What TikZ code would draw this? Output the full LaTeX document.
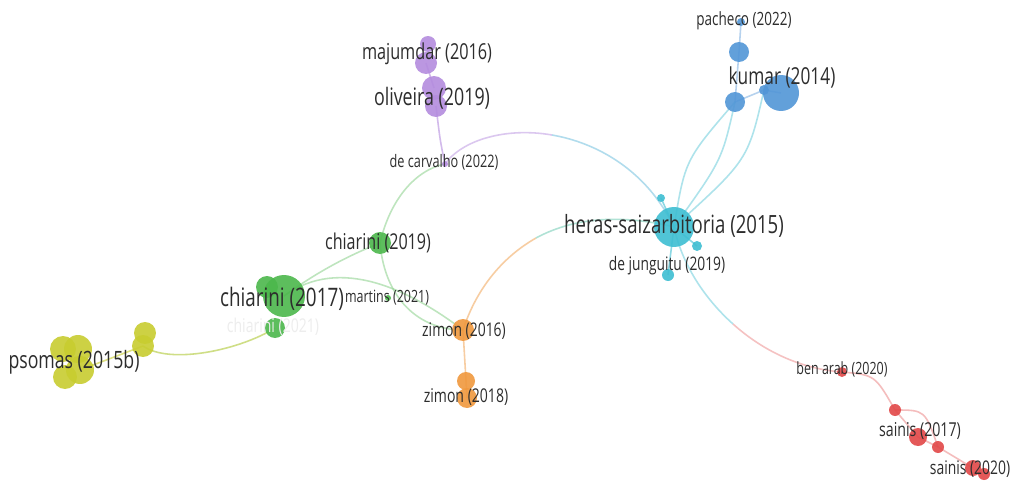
\documentclass[tikz,border=0pt]{standalone}
\usepackage{fontspec}
\newfontfamily\labfont[FakeStretch=0.74]{Open Sans}
\usetikzlibrary{backgrounds}

\definecolor{cBlue}{RGB}{82,150,215}
\definecolor{cCyan}{RGB}{62,190,210}
\definecolor{cPurp}{RGB}{180,140,222}
\definecolor{cGreen}{RGB}{76,184,76}
\definecolor{cYell}{RGB}{200,205,48}
\definecolor{cOran}{RGB}{240,152,62}
\definecolor{cRed}{RGB}{226,72,72}
\definecolor{cText}{RGB}{45,45,45}

\begin{document}
\begin{tikzpicture}[x=0.02cm,y=-0.02cm,
	bub/.style={circle,inner sep=0,outer sep=0,minimum size=#1*0.04cm,fill opacity=0.9},
	lnk/.style={line width=0.9pt,draw opacity=0.6,draw=#1},
	lab/.style={text=cText,inner sep=0,font=\labfont\fontsize{#1}{#1}\selectfont},
	ghost/.style={text=black!7,inner sep=0,font=\labfont\fontsize{#1}{#1}\selectfont}]
	\useasboundingbox (0,0) rectangle (1010,483);
	% blue cluster
	\node[bub=4,fill=cBlue] (pach) at (741,22) {};
	\node[bub=10,fill=cBlue] (kako) at (739,52) {};
	\node[bub=10,fill=cBlue] (du) at (735,102) {};
	\node[bub=5,fill=cBlue] (kumS) at (764,90) {};
	\node[bub=18,fill=cBlue] (kum) at (781,93) {};
	% cyan cluster
	\node[bub=4,fill=cCyan] (danm) at (661,198) {};
	\node[bub=20,fill=cCyan] (heras) at (674,227) {};
	\node[bub=5,fill=cCyan] (herS) at (697,246) {};
	\node[bub=6,fill=cCyan] (jung) at (668,275) {};
	% purple cluster
	\node[bub=8,fill=cPurp] (majT) at (428,44) {};
	\node[bub=11,fill=cPurp] (maj) at (426,63) {};
	\node[bub=12,fill=cPurp] (oliv) at (434,88) {};
	\node[bub=11,fill=cPurp] (olivB) at (436,106) {};
	\node[bub=3,fill=cPurp] (carv) at (445,164) {};
	% green cluster
	\node[bub=11,fill=cGreen] (ch19) at (380,243) {};
	\node[bub=11,fill=cGreen] (ch17L) at (267,287) {};
	\node[bub=10,fill=cGreen] (ch21) at (275,328) {};
	\node[bub=21,fill=cGreen] (ch17) at (284,296) {};
	\node[bub=3,fill=cGreen] (mart) at (388,298) {};
	% yellow cluster
	\node[bub=13,fill=cYell] (psoA) at (63,349) {};
	\node[bub=14,fill=cYell] (psoB) at (78,349) {};
	\node[bub=12,fill=cYell] (psoC) at (65,377) {};
	\node[bub=14,fill=cYell] (pso) at (80,370) {};
	\node[bub=11,fill=cYell] (psoT) at (145,333) {};
	\node[bub=11,fill=cYell] (pso2) at (143,346) {};
	% orange cluster
	\node[bub=11,fill=cOran] (zim16) at (463,330) {};
	\node[bub=9,fill=cOran] (zim18T) at (466,381) {};
	\node[bub=10,fill=cOran] (zim18) at (467,398) {};
	% red cluster
	\node[bub=5,fill=cRed] (ben) at (842,372) {};
	\node[bub=6,fill=cRed] (rA) at (895,410) {};
	\node[bub=9,fill=cRed] (sai17) at (918,437) {};
	\node[bub=6,fill=cRed] (rB) at (938,447) {};
	\node[bub=8,fill=cRed] (sai20) at (973,468) {};
	\node[bub=6,fill=cRed] (sai20B) at (984,474) {};
	% helper points on the long links
	\coordinate (mCH) at (552,135);
	\coordinate (mZH) at (536,238);
	\coordinate (mHB) at (733,324);
	% links
	\begin{scope}[on background layer]
		\fill[white] (0,0) rectangle (1010,483);
		\draw[lnk=cCyan!70] (heras.center) .. controls (685,160) .. (du.center);
		\draw[lnk=cCyan!70] (heras.center) .. controls (722,160) .. (du.center);
		\draw[lnk=cCyan!70] (heras.center) .. controls (748,160) .. (kumS.center);
		\draw[lnk=cBlue!70] (du.center) -- (kako.center) -- (pach.center);
		\draw[lnk=cBlue!70] (du.center) -- (kumS.center) -- (kum.center);
		\draw[lnk=cCyan] (heras.center) -- (danm.center);
		\draw[lnk=cCyan] (heras.center) -- (herS.center);
		\draw[lnk=cCyan] (heras.center) -- (jung.center);
		\draw[lnk=cPurp!80] (carv.center) .. controls (462,140) and (506,127) .. (mCH);
		\draw[lnk=cCyan!60!cBlue!70] (mCH) .. controls (598,143) and (647,171) .. (heras.center);
		\draw[lnk=cOran!80] (zim16.center) .. controls (476,290) and (501,258) .. (mZH);
		\draw[lnk=cGreen!40!cCyan!70] (mZH) .. controls (571,219) and (617,213) .. (heras.center);
		\draw[lnk=cCyan!70] (heras.center) .. controls (682,264) and (704,298) .. (mHB);
		\draw[lnk=cRed!55] (mHB) .. controls (763,351) and (801,369) .. (ben.center);
		\draw[lnk=cPurp] (maj.center) -- (oliv.center);
		\draw[lnk=cPurp] (olivB.center) .. controls (440,140) .. (carv.center);
		\draw[lnk=cGreen!60] (ch19.center) .. controls (390,200) and (415,170) .. (carv.center);
		\draw[lnk=cGreen!60] (ch17.center) .. controls (320,270) and (350,255) .. (ch19.center);
		\draw[lnk=cGreen!60] (ch17.center) .. controls (340,255) and (410,290) .. (zim16.center);
		\draw[lnk=cGreen!60] (ch19.center) .. controls (385,300) and (420,330) .. (zim16.center);
		\draw[lnk=cOran!80] (zim16.center) -- (zim18.center);
		\draw[lnk=cYell!80!cGreen] (pso2.center) .. controls (170,365) and (240,350) .. (ch21.center);
		\draw[lnk=cYell] (pso.center) -- (pso2.center);
		\draw[lnk=cRed!60] (ben.center) .. controls (875,375) .. (rA.center);
		\draw[lnk=cRed!60] (rA.center) -- (sai17.center) -- (rB.center) -- (sai20.center);
		\draw[lnk=cRed!60] (rA.center) .. controls (925,410) .. (rB.center);
	\end{scope}
	% labels
	\node[lab=10.4] (tPach) at (744,21) {pacheco (2022)};
	\node[lab=13.3] (tKum) at (782,77) {kumar (2014)};
	\node[lab=14.3] (tHeras) at (674,226) {heras-saizarbitoria (2015)};
	\node[lab=10.6] (tJung) at (667,266) {de junguitu (2019)};
	\node[lab=12.5] (tMaj) at (427,54) {majumdar (2016)};
	\node[lab=13.7] (tOliv) at (432,98) {oliveira (2019)};
	\node[lab=9.8] (tCarv) at (444,162) {de carvalho (2022)};
	\node[lab=12.4] (tCh19) at (378,243) {chiarini (2019)};
	\node[ghost=10.8] (tCh21) at (273,327) {chiarini (2021)};
	\node[lab=14.5] (tCh17) at (282,299) {chiarini (2017)};
	\node[lab=9.6] (tMart) at (387,298) {martins (2021)};
	\node[lab=13.6] (tPso) at (74,362) {psomas (2015b)};
	\node[lab=10.7] (tZim16) at (464,331) {zimon (2016)};
	\node[lab=10.8] (tZim18) at (466,397) {zimon (2018)};
	\node[lab=9.6] (tBen) at (842,369) {ben arab (2020)};
	\node[lab=10.9] (tSai17) at (920,431) {sainis (2017)};
	\node[lab=10.7] (tSai20) at (970,469) {sainis (2020)};
\end{tikzpicture}
\end{document}
